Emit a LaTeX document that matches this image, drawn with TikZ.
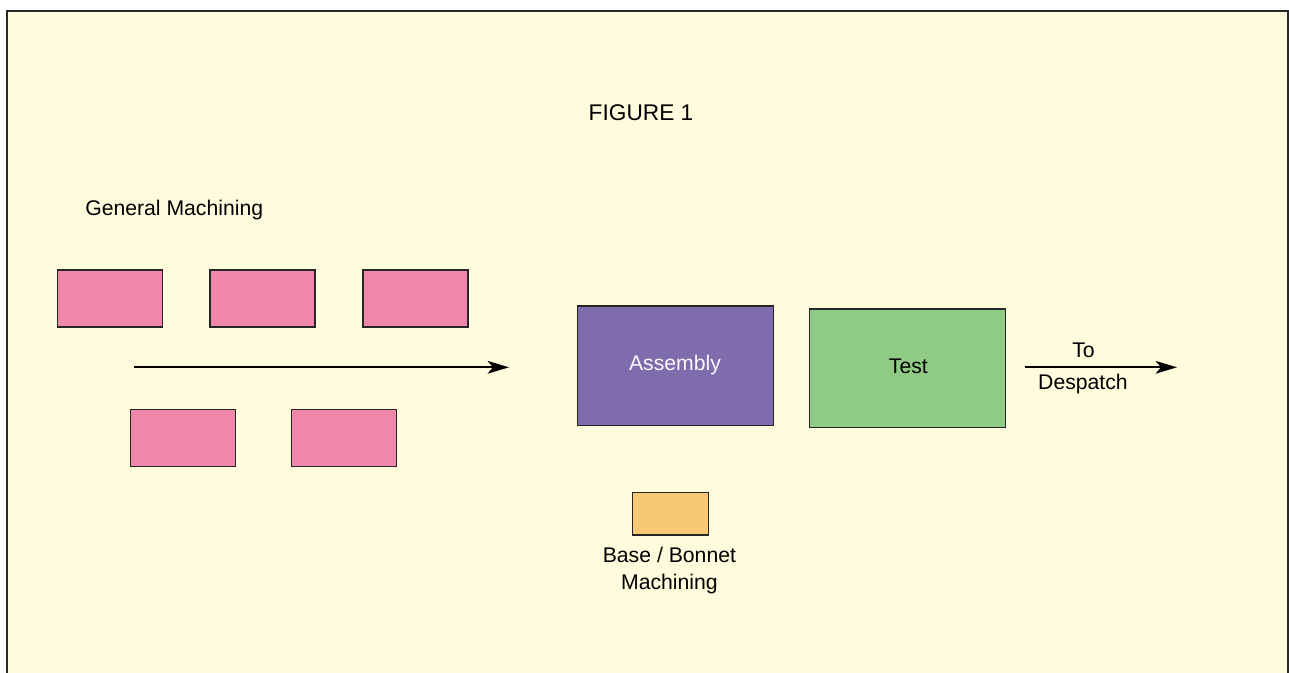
\documentclass[tikz,border=0pt]{standalone}
\usepackage{fontspec}
\setmainfont{Liberation Sans}
\usetikzlibrary{arrows.meta}
\definecolor{paper}{RGB}{255,252,222}
\definecolor{framegray}{RGB}{40,40,40}
\definecolor{pinkfill}{RGB}{240,136,171}
\definecolor{purplefill}{RGB}{127,108,172}
\definecolor{greenfill}{RGB}{144,203,134}
\definecolor{orangefill}{RGB}{248,200,114}
\tikzset{
  unit/.style={draw=black!85, line width=0.9pt, inner sep=0pt, outer sep=0pt},
  machine/.style={unit, fill=pinkfill, minimum width=78.75pt, minimum height=42.75pt},
  label/.style={font=\fontsize{15.9pt}{19pt}\selectfont, inner sep=0pt, anchor=base},
  flow/.style={line width=1.6pt, -{Stealth[length=16pt,width=9.5pt,inset=4pt]}}
}
\begin{document}
\begin{tikzpicture}[x=0.75pt, y=-0.75pt]
  % page and open-bottom frame
  \useasboundingbox (0,0) rectangle (1289,673);
  \fill[white] (0,0) rectangle (1289,673);
  \fill[paper] (7,11) rectangle (1288,673);
  \draw[framegray, line width=1.4pt] (7,673) -- (7,11) -- (1288,11) -- (1288,673);

  % title
  \node[label, font=\fontsize{17pt}{20pt}\selectfont] (title) at (641,121) {FIGURE 1};

  % general machining cell
  \node[label, anchor=base west] (gmlabel) at (85,216) {General Machining};
  \node[machine] (m1) at (110,298.6) {};
  \node[machine] (m2) at (262.5,298.6) {};
  \node[machine] (m3) at (415.5,298.6) {};
  \node[machine] (m4) at (183,438.3) {};
  \node[machine] (m5) at (344,438.3) {};
  \coordinate (flowstart) at (134,367.3);
  \coordinate (flowend) at (509,367.3);
  \draw[flow] (flowstart) -- (flowend);

  % assembly and test
  \node[unit, fill=purplefill, minimum width=147pt, minimum height=89.5pt] (assembly) at (675.7,365.7) {};
  \node[label, text=white!95!purplefill] (assemblytext) at (675,370.7) {Assembly};
  \node[unit, fill=greenfill, minimum width=147pt, minimum height=89pt] (test) at (907.3,368.3) {};
  \node[label] (testtext) at (908.4,374) {Test};

  % despatch
  \coordinate (despatchstart) at (1025,367.3);
  \coordinate (despatchend) at (1177,367.3);
  \draw[flow] (despatchstart) -- (despatchend);
  \node[label] (to) at (1083.5,358) {To};
  \node[label] (despatch) at (1083,390) {Despatch};

  % base / bonnet machining
  \node[unit, fill=orangefill, minimum width=57.3pt, minimum height=32pt] (base) at (670.5,513.6) {};
  \node[label] (basetext1) at (669.4,562.7) {Base / Bonnet};
  \node[label] (basetext2) at (669.4,589) {Machining};
\end{tikzpicture}
\end{document}
